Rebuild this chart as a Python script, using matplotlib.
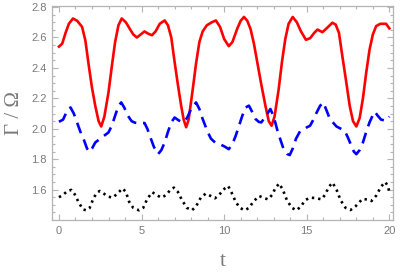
import matplotlib
matplotlib.use('agg')
from matplotlib import pyplot as plt
from matplotlib.ticker import MultipleLocator

# values
red_t = [0.0, 0.2, 0.4, 0.6, 0.85, 1.1, 1.4, 1.6, 1.8, 2.0, 2.2, 2.4, 2.56, 2.75,
         3.0, 3.2, 3.4, 3.6, 3.8, 4.05, 4.3, 4.5, 4.72, 4.95, 5.18, 5.4, 5.63,
         5.85, 6.1, 6.4, 6.6, 6.8, 7.0, 7.2, 7.4, 7.55, 7.7, 7.85, 8.1, 8.3, 8.5,
         8.7, 8.95, 9.25, 9.5, 9.75, 10.0, 10.28, 10.5, 10.8, 11.0, 11.2, 11.4,
         11.6, 11.8, 12.0, 12.25, 12.5, 12.7, 12.87, 13.05, 13.3, 13.5, 13.7,
         13.9, 14.15, 14.4, 14.65, 14.95, 15.2, 15.45, 15.65, 15.95, 16.2, 16.55,
         16.75, 16.95, 17.15, 17.4, 17.6, 17.8, 18.0, 18.2, 18.4, 18.6, 18.8,
         19.0, 19.2, 19.45, 19.8, 20.0]
red_v = [2.54, 2.56, 2.63, 2.69, 2.725, 2.71, 2.67, 2.58, 2.42, 2.27, 2.15, 2.05,
         2.015, 2.08, 2.24, 2.41, 2.57, 2.68, 2.725, 2.70, 2.655, 2.62, 2.60,
         2.62, 2.64, 2.625, 2.615, 2.64, 2.69, 2.712, 2.68, 2.60, 2.44, 2.29,
         2.15, 2.06, 2.01, 2.06, 2.26, 2.43, 2.57, 2.64, 2.68, 2.70, 2.712, 2.67,
         2.59, 2.543, 2.57, 2.66, 2.71, 2.735, 2.71, 2.655, 2.56, 2.44, 2.29,
         2.15, 2.05, 2.02, 2.08, 2.26, 2.44, 2.59, 2.69, 2.735, 2.70, 2.64, 2.585,
         2.595, 2.63, 2.652, 2.635, 2.66, 2.697, 2.685, 2.63, 2.48, 2.30, 2.15,
         2.05, 2.015, 2.07, 2.20, 2.37, 2.52, 2.62, 2.675, 2.69, 2.69, 2.66]

blue_t = [0.0, 0.25, 0.5, 0.7, 0.9, 1.1, 1.3, 1.5, 1.7, 1.85, 2.0, 2.2, 2.6, 3.0,
          3.2, 3.4, 3.6, 3.77, 3.95, 4.17, 4.4, 4.6, 4.9, 5.18, 5.35, 5.5, 5.75,
          6.0, 6.2, 6.4, 6.6, 6.8, 7.0, 7.25, 7.5, 7.75, 8.0, 8.3, 8.5, 8.7, 9.0,
          9.2, 9.45, 9.72, 10.0, 10.28, 10.5, 10.7, 10.9, 11.1, 11.3, 11.5, 11.7,
          11.9, 12.1, 12.25, 12.5, 12.8, 13.0, 13.2, 13.4, 13.6, 13.8, 13.97,
          14.15, 14.35, 14.6, 15.0, 15.2, 15.4, 15.6, 15.8, 16.0, 16.2, 16.4,
          16.8, 17.3, 17.5, 17.7, 17.85, 18.0, 18.2, 18.4, 18.6, 18.8, 19.0,
          19.12, 19.3, 19.5, 19.8, 20.0]
blue_v = [2.046, 2.06, 2.12, 2.14, 2.10, 2.04, 1.98, 1.93, 1.87, 1.848, 1.87,
          1.91, 1.943, 1.976, 2.02, 2.086, 2.15, 2.173, 2.14, 2.086, 2.05, 2.04,
          2.035, 2.038, 2.00, 1.954, 1.88, 1.833, 1.86, 1.91, 1.98, 2.042, 2.074,
          2.055, 2.042, 2.07, 2.13, 2.173, 2.13, 2.064, 1.98, 1.935, 1.91, 1.899,
          1.885, 1.866, 1.90, 1.954, 2.02, 2.086, 2.14, 2.152, 2.11, 2.064,
          2.045, 2.042, 2.08, 2.13, 2.08, 1.998, 1.93, 1.866, 1.835, 1.827, 1.87,
          1.935, 1.985, 2.009, 2.02, 2.06, 2.107, 2.15, 2.173, 2.12, 2.064, 2.015,
          1.987, 1.94, 1.888, 1.85, 1.833, 1.86, 1.91, 1.98, 2.042, 2.09, 2.112,
          2.085, 2.06, 2.053, 2.08]

black_t = [0.0, 0.25, 0.5, 0.75, 0.95, 1.2, 1.45, 1.65, 1.85, 2.1, 2.3, 2.47, 2.7,
           2.95, 3.25, 3.5, 3.85, 4.05, 4.25, 4.5, 4.85, 5.1, 5.35, 5.65, 5.9,
           6.2, 6.5, 6.75, 6.96, 7.2, 7.45, 7.75, 8.05, 8.3, 8.6, 8.89, 9.15,
           9.44, 9.7, 9.95, 10.24, 10.45, 10.7, 10.95, 11.25, 11.5, 11.8, 12.12,
           12.4, 12.66, 12.9, 13.1, 13.33, 13.55, 13.8, 14.1, 14.38, 14.65, 14.9,
           15.18, 15.5, 15.89, 16.1, 16.35, 16.56, 16.8, 17.05, 17.35, 17.65,
           17.95, 18.37, 18.65, 18.92, 19.2, 19.5, 19.75, 19.9, 20.0]
black_v = [1.55, 1.565, 1.59, 1.598, 1.57, 1.515, 1.47, 1.464, 1.478, 1.545, 1.58,
           1.591, 1.575, 1.555, 1.547, 1.57, 1.608, 1.585, 1.52, 1.48, 1.464, 1.48,
           1.54, 1.583, 1.565, 1.547, 1.565, 1.60, 1.613, 1.585, 1.53, 1.48, 1.464,
           1.49, 1.55, 1.574, 1.56, 1.543, 1.565, 1.60, 1.624, 1.58, 1.52, 1.48,
           1.464, 1.48, 1.525, 1.558, 1.545, 1.536, 1.565, 1.61, 1.64, 1.60, 1.53,
           1.48, 1.464, 1.49, 1.53, 1.547, 1.545, 1.536, 1.565, 1.62, 1.646, 1.60,
           1.53, 1.48, 1.466, 1.49, 1.539, 1.535, 1.525, 1.56, 1.62, 1.65, 1.625,
           1.585]

FRAME = '#b4b4b4'
LABEL = '#7a7a7a'

fig = plt.figure(figsize=(4.0, 2.73), dpi=100)
ax = fig.add_axes([0.13, 0.194, 0.8525, 0.784])

ax.plot(red_t, red_v, color='red', lw=1.9, solid_joinstyle='round')
ax.plot(blue_t, blue_v, color='blue', lw=1.9, linestyle=(0, (4.2, 2.6)))
ax.plot(black_t, black_v, color='black', lw=1.9, linestyle=(0, (0.9, 1.5)))

ax.set_xlim(-0.42, 20.22)
ax.set_ylim(1.4, 2.807)

ax.xaxis.set_major_locator(MultipleLocator(5))
ax.xaxis.set_minor_locator(MultipleLocator(1))
ax.yaxis.set_major_locator(MultipleLocator(0.2))
ax.yaxis.set_minor_locator(MultipleLocator(0.05))
ax.set_yticks([1.6, 1.8, 2.0, 2.2, 2.4, 2.6, 2.8])
ax.set_yticklabels(['1.6', '1.8', '2.0', '2.2', '2.4', '2.6', '2.8'])

for s in ax.spines.values():
    s.set_color(FRAME)
    s.set_linewidth(0.9)

ax.tick_params(which='both', direction='in', top=True, right=True,
               color=FRAME, labelcolor=LABEL, labelsize=8, width=0.8)
ax.tick_params(which='major', length=4.5, pad=4)
ax.tick_params(which='minor', length=2.5)
for tick in ax.get_xticklabels() + ax.get_yticklabels():
    tick.set_family('Liberation Sans')

ax.set_xlabel('t', family='Liberation Serif', fontsize=16, color=LABEL, labelpad=12)
ax.set_ylabel('Γ / Ω', family='Liberation Serif', fontsize=15, color=LABEL, labelpad=5)

fig.savefig('out.png', dpi=100)
plt.close()
